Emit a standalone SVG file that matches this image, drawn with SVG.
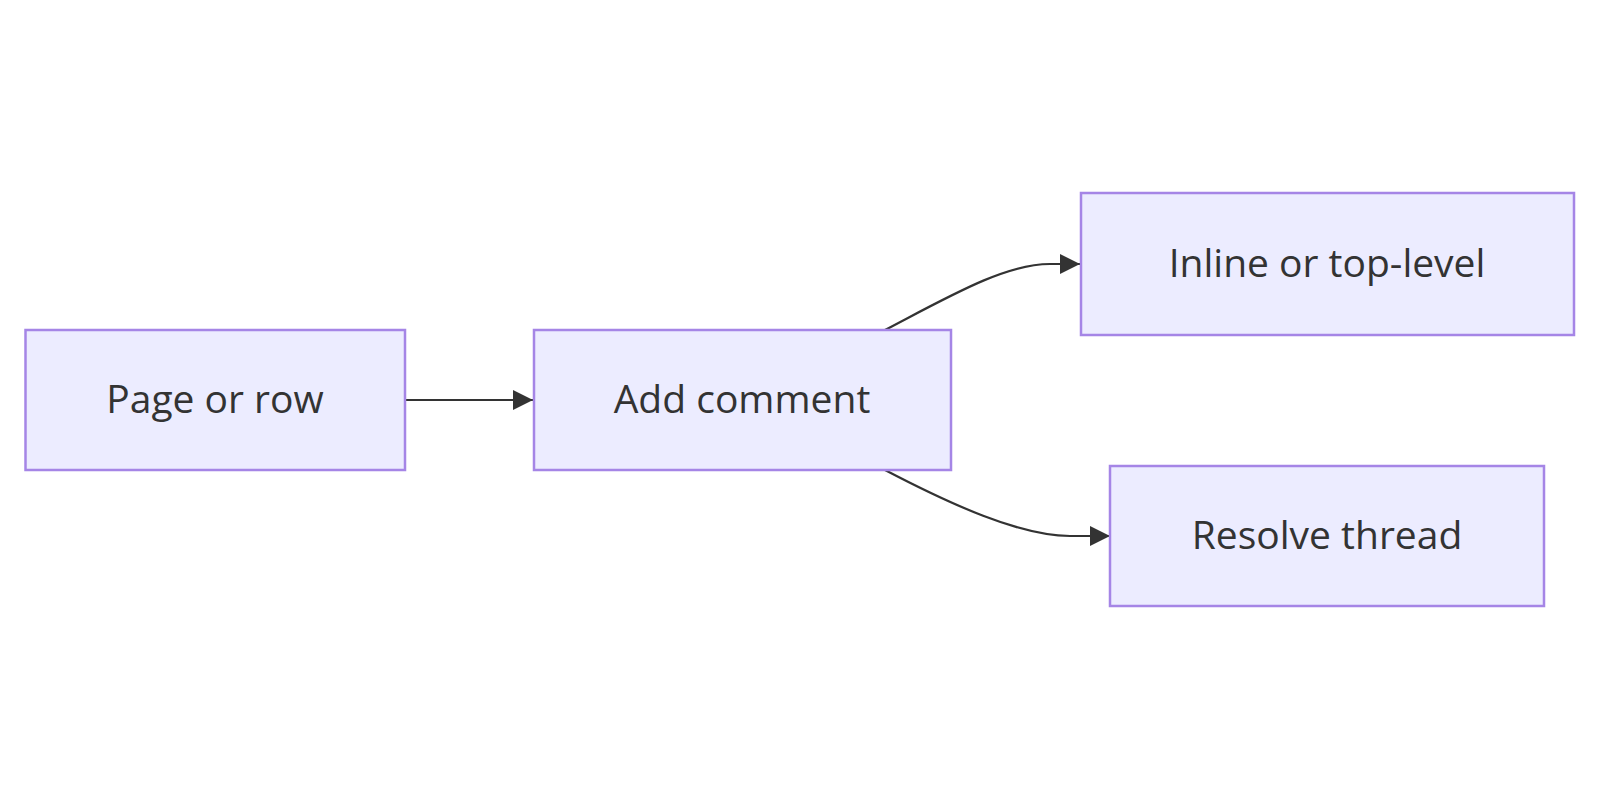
<svg xmlns="http://www.w3.org/2000/svg" width="1600" height="800" viewBox="0 0 1600 800">
<style>
.node rect{fill:#ECECFF;stroke:#A585E6;stroke-width:2.5}
.node text{font-family:"Open Sans","DejaVu Sans",sans-serif;font-size:39px;fill:#333;text-anchor:middle;dominant-baseline:central}
.edge{fill:none;stroke:#333;stroke-width:2.2}
</style>
<defs>
<marker id="arrow" viewBox="0 0 10 10" refX="10" refY="5" markerWidth="20" markerHeight="20" markerUnits="userSpaceOnUse" orient="auto">
<path d="M0,0 L10,5 L0,10 z" fill="#333"/>
</marker>
</defs>
<rect width="1600" height="800" fill="#fff"/>
<g id="connectors">
<path class="edge" d="M405,400 L533,400" marker-end="url(#arrow)"/>
<path class="edge" d="M885,330 C950,296 1005,264 1050,264 L1080,264" marker-end="url(#arrow)"/>
<path class="edge" d="M885,470 C950,504 1020,536 1070,536 L1110,536" marker-end="url(#arrow)"/>
</g>
<g id="node-page" class="node">
<rect x="25.5" y="330" width="379.5" height="140"/>
<text x="215" y="397">Page or row</text>
</g>
<g id="node-add" class="node">
<rect x="534" y="330" width="417" height="140"/>
<text x="742" y="397">Add comment</text>
</g>
<g id="node-inline" class="node">
<rect x="1081" y="193" width="493" height="142"/>
<text x="1327" y="261">Inline or top-level</text>
</g>
<g id="node-resolve" class="node">
<rect x="1110" y="466" width="434" height="140"/>
<text x="1327" y="533">Resolve thread</text>
</g>
</svg>
